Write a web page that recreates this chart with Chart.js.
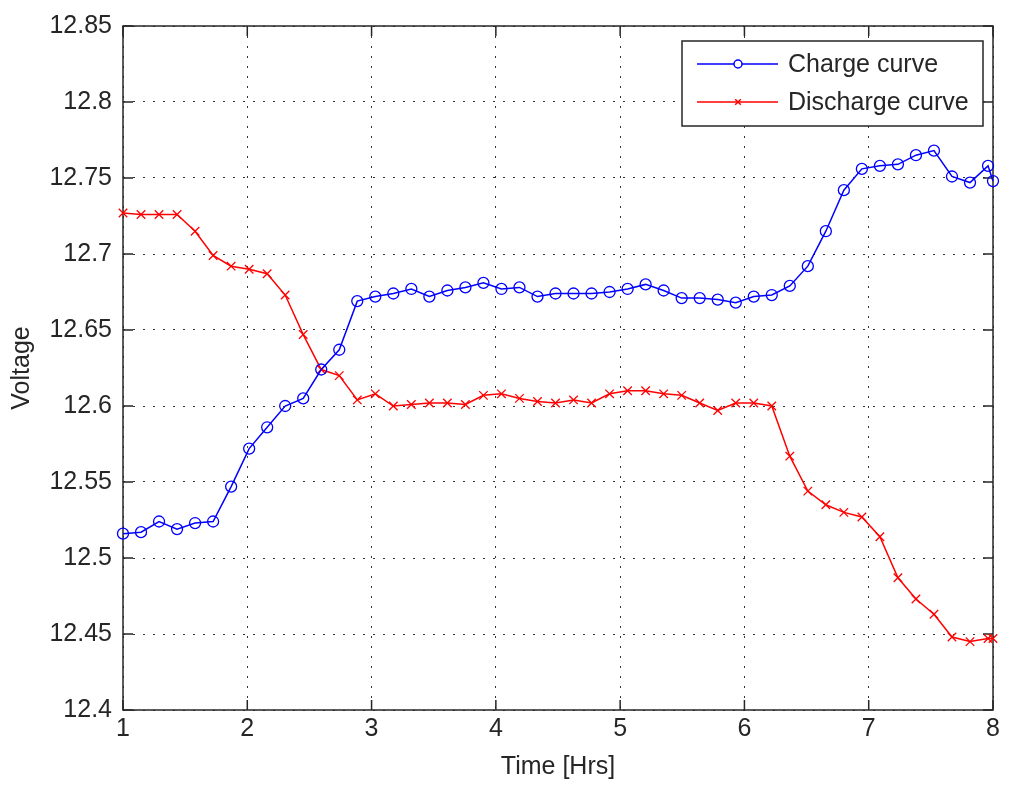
<!DOCTYPE html>
<html>
<head>
<meta charset="utf-8">
<script src="https://cdn.jsdelivr.net/npm/chart.js@4.4.1/dist/chart.umd.min.js"></script>
<style>
  html, body { margin: 0; padding: 0; background: #fff; }
  #wrap { width: 1009px; height: 787px; }
</style>
</head>
<body>
<div id="wrap"><canvas id="chart" width="1009" height="787"></canvas></div>
<script>
// time of each sample, hours
var times = [1.000, 1.145, 1.290, 1.435, 1.580, 1.725, 1.870, 2.015, 2.160, 2.305,
             2.450, 2.595, 2.740, 2.885, 3.030, 3.175, 3.320, 3.465, 3.610, 3.755,
             3.900, 4.045, 4.190, 4.335, 4.480, 4.625, 4.770, 4.915, 5.060, 5.205,
             5.350, 5.495, 5.640, 5.785, 5.930, 6.075, 6.220, 6.365, 6.510, 6.655,
             6.800, 6.945, 7.090, 7.235, 7.380, 7.525, 7.670, 7.815, 7.960, 8.000];

var chargeVolts = [12.516, 12.517, 12.524, 12.519, 12.523, 12.524, 12.547, 12.572, 12.586, 12.600,
                   12.605, 12.624, 12.637, 12.669, 12.672, 12.674, 12.677, 12.672, 12.676, 12.678,
                   12.681, 12.677, 12.678, 12.672, 12.674, 12.674, 12.674, 12.675, 12.677, 12.680,
                   12.676, 12.671, 12.671, 12.670, 12.668, 12.672, 12.673, 12.679, 12.692, 12.715,
                   12.742, 12.756, 12.758, 12.759, 12.765, 12.768, 12.751, 12.747, 12.758, 12.748];

var dischargeVolts = [12.727, 12.726, 12.726, 12.726, 12.715, 12.699, 12.692, 12.690, 12.687, 12.673,
                      12.647, 12.624, 12.620, 12.604, 12.608, 12.600, 12.601, 12.602, 12.602, 12.601,
                      12.607, 12.608, 12.605, 12.603, 12.602, 12.604, 12.602, 12.608, 12.610, 12.610,
                      12.608, 12.607, 12.602, 12.597, 12.602, 12.602, 12.600, 12.567, 12.544, 12.535,
                      12.530, 12.527, 12.514, 12.487, 12.473, 12.463, 12.448, 12.445, 12.447, 12.447];

var xTickLabels = ['1', '2', '3', '4', '5', '6', '7', '8'];
var yTickLabels = ['12.4', '12.45', '12.5', '12.55', '12.6', '12.65', '12.7', '12.75', '12.8', '12.85'];

var FONT = '"Liberation Sans", Arial, Helvetica, sans-serif';
var INK = '#262626';
var TICK_LEN = 10;

function toPoints(xs, ys) {
  return xs.map(function (t, i) { return { x: t, y: ys[i] }; });
}

// MATLAB style box with ticks pointing inwards on all four sides
var axesBox = {
  id: 'axesBox',
  beforeDatasetsDraw: function (chart) {
    var ctx = chart.ctx, a = chart.chartArea;
    var xs = chart.scales.x, ys = chart.scales.y;
    ctx.save();
    ctx.strokeStyle = INK;
    ctx.lineWidth = 1.5;
    ctx.beginPath();
    xs.ticks.forEach(function (t) {
      var px = xs.getPixelForValue(t.value);
      ctx.moveTo(px, a.bottom); ctx.lineTo(px, a.bottom - TICK_LEN);
      ctx.moveTo(px, a.top); ctx.lineTo(px, a.top + TICK_LEN);
    });
    ys.ticks.forEach(function (t) {
      var py = ys.getPixelForValue(t.value);
      ctx.moveTo(a.left, py); ctx.lineTo(a.left + TICK_LEN, py);
      ctx.moveTo(a.right, py); ctx.lineTo(a.right - TICK_LEN, py);
    });
    ctx.stroke();
    ctx.strokeRect(a.left, a.top, a.right - a.left, a.bottom - a.top);
    ctx.restore();
  }
};

// legend box in the top right corner, line + marker + label
var lineLegend = {
  id: 'lineLegend',
  afterDraw: function (chart) {
    var ctx = chart.ctx, a = chart.chartArea;
    var w = 301, h = 85;
    var left = a.right - 10 - w, top = a.top + 15;
    ctx.save();
    ctx.fillStyle = '#fff';
    ctx.fillRect(left, top, w, h);
    ctx.strokeStyle = INK;
    ctx.lineWidth = 1.5;
    ctx.strokeRect(left, top, w, h);
    chart.data.datasets.forEach(function (ds, i) {
      var cy = top + 23 + i * 38;
      ctx.strokeStyle = ds.borderColor;
      ctx.lineWidth = 1.5;
      ctx.beginPath();
      ctx.moveTo(left + 15, cy);
      ctx.lineTo(left + 96, cy);
      ctx.stroke();
      Chart.helpers.drawPoint(ctx, {
        pointStyle: ds.pointStyle, radius: 4, borderWidth: 1.3, rotation: 0
      }, left + 56, cy);
      ctx.fillStyle = INK;
      ctx.font = '25px ' + FONT;
      ctx.textBaseline = 'middle';
      ctx.textAlign = 'left';
      ctx.fillText(ds.label, left + 106, cy + 1);
    });
    ctx.restore();
  }
};

var ctx = document.getElementById('chart').getContext('2d');
var chart = new Chart(ctx, {
  type: 'line',
  data: {
    datasets: [
      {
        label: 'Charge curve',
        data: toPoints(times, chargeVolts),
        borderColor: '#0000ff',
        backgroundColor: 'rgba(0,0,0,0)',
        borderWidth: 1.5,
        pointStyle: 'circle',
        pointRadius: 5.5,
        pointBorderWidth: 1.3,
        pointBorderColor: '#0000ff',
        pointBackgroundColor: 'rgba(0,0,0,0)',
        tension: 0,
        clip: false
      },
      {
        label: 'Discharge curve',
        data: toPoints(times, dischargeVolts),
        borderColor: '#ff0000',
        backgroundColor: 'rgba(0,0,0,0)',
        borderWidth: 1.5,
        pointStyle: 'crossRot',
        pointRadius: 6,
        pointBorderWidth: 1.3,
        pointBorderColor: '#ff0000',
        tension: 0,
        clip: false
      }
    ]
  },
  options: {
    responsive: false,
    animation: false,
    events: [],
    layout: { padding: { left: 0, right: 16, top: 25, bottom: 0 } },
    plugins: {
      legend: { display: false },
      tooltip: { enabled: false }
    },
    scales: {
      x: {
        type: 'linear',
        min: 1,
        max: 8,
        afterFit: function (s) { s.height = 77; },
        afterBuildTicks: function (s) {
          s.ticks = xTickLabels.map(function (l) { return { value: parseFloat(l) }; });
        },
        ticks: {
          autoSkip: false,
          maxRotation: 0,
          padding: 4,
          color: INK,
          font: { family: FONT, size: 25 },
          callback: function (v, i) { return xTickLabels[i]; }
        },
        grid: { color: '#333', lineWidth: 1, drawTicks: false },
        border: { display: false, dash: [2, 8] },
        title: {
          display: true,
          text: 'Time [Hrs]',
          color: INK,
          font: { family: FONT, size: 25 },
          padding: { top: 0, bottom: 5 }
        }
      },
      y: {
        type: 'linear',
        min: 12.4,
        max: 12.85,
        afterFit: function (s) { s.width = 123; },
        afterBuildTicks: function (s) {
          s.ticks = yTickLabels.map(function (l) { return { value: parseFloat(l) }; });
        },
        ticks: {
          autoSkip: false,
          padding: 11,
          color: INK,
          font: { family: FONT, size: 25 },
          callback: function (v, i) { return yTickLabels[i]; }
        },
        grid: { color: '#333', lineWidth: 1, drawTicks: false },
        border: { display: false, dash: [2, 8] },
        title: {
          display: true,
          text: 'Voltage',
          color: INK,
          font: { family: FONT, size: 25 },
          padding: { top: 7, bottom: 0 }
        }
      }
    }
  },
  plugins: [axesBox, lineLegend]
});
</script>
</body>
</html>
